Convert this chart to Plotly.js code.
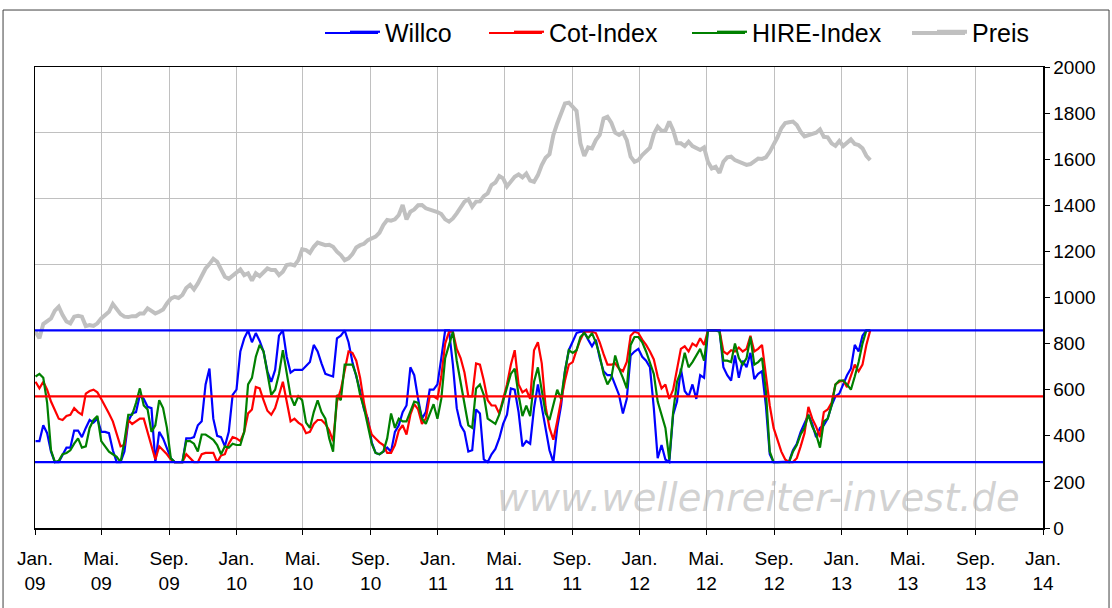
<!DOCTYPE html>
<html>
<head>
<meta charset="utf-8">
<script src="https://cdn.plot.ly/plotly-3.0.1.min.js"></script>
<style>html,body{margin:0;padding:0;background:#fff;}#chart{width:1112px;height:608px;}</style>
</head>
<body>
<div id="chart"></div>
<script>
// Weekly observations starting on the first Friday of 2009
const startDate = '2009-01-02';

// Index values in percent (0 = lower blue line, 100 = upper blue line)
const willco = [
16,16,28,22,8,0,0,6,11,11,24,24,19,26,32,30,33,23,23,22,9,0,0,8,31,37,38,51,48,42,41,0,23,18,11,3,0,0,0,18,18,19,28,31,59,71,33,20,19,12,23,51,55,84,
94,100,91,98,92,84,69,61,70,96,100,80,68,70,70,70,73,76,89,84,75,67,66,65,94,96,100,91,76,65,54,40,33,15,7,6,8,11,8,23,28,38,43,72,66,48,33,38,55,55,59,79,100,100,
74,41,28,23,8,9,40,37,2,0,6,10,18,29,36,56,55,38,12,16,14,41,59,42,24,9,0,26,43,69,85,91,98,99,99,93,88,93,79,69,66,66,59,51,37,48,81,84,86,80,77,72,41,
3,13,2,0,36,46,71,54,50,59,48,66,64,100,100,100,100,72,66,62,81,64,77,72,83,63,67,69,43,6,0,0,0,0,0.5,9,14,23,29,36,29,19,26,28,33,43,50,52,59,66,71,89,84,96,100,100];

const cotIndex = [
61,56,61,55,46,40,33,32,35,36,41,38,36,52,54,55,53,48,43,37,31,21,12,13,32,29,31,33,33,23,14,2,12,9,6,2,0,0,0,6,3,0,0,6,7,7,7,0,5,6,14,19,18,16,
23,37,40,57,56,47,39,36,41,51,61,46,31,33,30,28,22,23,29,32,32,29,24,16,46,55,69,84,83,77,64,45,31,21,18,15,13,7,7,13,24,28,21,36,44,40,29,33,50,50,48,65,90,99,
99,86,79,68,50,50,75,74,62,47,43,43,37,48,59,74,85,59,53,55,48,85,91,75,42,26,17,31,46,62,74,76,85,93,99,99,99,98,91,82,74,74,75,71,69,76,96,99,98,93,89,84,78,
65,56,59,48,55,71,86,88,84,90,88,94,89,100,100,100,100,84,82,85,84,87,84,86,96,84,86,89,64,43,26,16,8,2,0,0,3,12,22,42,33,27,19,38,40,45,59,61,62,57,65,74,69,74,89,100];

const hireIndex = [
65,67,64,45,9,0,1,6,7,9,14,18,11,12,26,32,35,16,12,8,6,4,0,16,36,36,45,56,43,40,23,28,47,41,26,3,0,0,0,16,16,14,8,21,21,19,17,13,6,12,11,14,13,13,
23,59,64,80,89,84,67,51,55,67,85,66,50,43,50,47,30,26,38,47,38,33,18,8,51,47,74,74,74,66,51,41,28,14,7,6,8,18,37,26,33,31,31,38,46,45,33,29,36,44,33,48,79,90,
99,77,61,46,28,26,56,59,51,33,31,29,36,46,55,67,71,51,35,43,35,61,72,54,37,32,43,55,48,69,85,83,85,95,98,94,98,91,81,67,59,64,81,71,64,56,89,95,95,91,84,75,67,
46,36,26,2,38,61,69,83,72,76,81,86,77,100,100,100,99,77,77,76,90,79,74,79,95,74,76,79,54,8,0,0,0,0,0,8,13,21,26,36,27,21,11,31,33,43,59,62,62,59,55,65,76,90,100,100];

// Price (right axis)
const preis = [
852,823,885,895,909,943,960,924,896,888,917,921,917,876,880,877,888,909,922,938,
972,953,928,917,915,919,919,931,931,953,943,931,938,948,974,995,1003,998,1011,1041,
1055,1035,1061,1090,1126,1145,1168,1155,1119,1090,1081,1093,1107,1122,1097,1105,1073,1105,1093,1112,
1126,1119,1119,1097,1112,1141,1144,1139,1162,1209,1206,1194,1220,1238,1232,1227,1229,1220,1199,1184,
1162,1170,1188,1217,1227,1233,1249,1259,1264,1281,1314,1336,1333,1339,1358,1401,1339,1372,1382,1400,
1401,1387,1382,1379,1371,1362,1339,1329,1343,1365,1387,1416,1426,1394,1416,1417,1440,1452,1488,1499,
1527,1517,1482,1500,1524,1534,1521,1538,
1507,1502,1531,1575,1606,1622,1705,1755,1799,1842,1845,1830,1810,1669,1614,1651,1647,1683,1705,1777,
1784,1758,1715,1705,1716,1683,1611,1589,1596,1618,1637,1650,1709,1741,1723,1723,1763,1726,1669,1669,
1657,1676,1657,1648,1640,1651,1589,1560,1567,1541,1589,1608,1611,1596,1589,1585,1575,1579,1589,1603,
1601,1608,1632,1660,1695,1734,1757,1760,1763,1748,1719,1699,1705,1712,1715,1729,1697,1695,1669,1658,
1679,1657,1673,1686,1666,1661,1647,1615,1596];

// Reference levels (percent)
const levels = [0, 50, 100];
const levelColors = ['#0000ff', '#ff0000', '#0000ff'];

// Axis ticks
const tickDates = ['2009-01-01','2009-05-01','2009-09-01','2010-01-01','2010-05-01','2010-09-01',
  '2011-01-01','2011-05-01','2011-09-01','2012-01-01','2012-05-01','2012-09-01',
  '2013-01-01','2013-05-01','2013-09-01','2014-01-01'];
const tickText = ['Jan.<br>09','Mai.<br>09','Sep.<br>09','Jan.<br>10','Mai.<br>10','Sep.<br>10',
  'Jan.<br>11','Mai.<br>11','Sep.<br>11','Jan.<br>12','Mai.<br>12','Sep.<br>12',
  'Jan.<br>13','Mai.<br>13','Sep.<br>13','Jan.<br>14'];

const seriesNames = ['Willco', 'Cot-Index', 'HIRE-Index', 'Preis'];
const seriesColors = ['#0000ff', '#ff0000', '#008000', '#c0c0c0'];
const seriesWidths = [2.2, 2.2, 2.2, 4];

function weekDates(n) {
  const s = new Date(startDate + 'T00:00:00Z');
  const out = [];
  for (let k = 0; k < n; k++) {
    const d = new Date(s.getTime() + k * 7 * 86400000);
    out.push(d.toISOString().slice(0, 10));
  }
  return out;
}
const dates = weekDates(preis.length);

const FONT = 'Liberation Sans, Arial, sans-serif';
const seriesData = [willco, cotIndex, hireIndex, preis];
const legendIds = ['legend', 'legend2', 'legend3', 'legend4'];

const traces = seriesData.map((vals, i) => ({
  x: dates, y: vals, name: seriesNames[i], type: 'scatter', mode: 'lines',
  line: {color: seriesColors[i], width: seriesWidths[i]},
  yaxis: i === 3 ? 'y2' : 'y', legend: legendIds[i]
}));

const shapes = levels.map((lv, i) => ({
  type: 'line', xref: 'paper', yref: 'y', x0: 0, x1: 1, y0: lv, y1: lv,
  line: {color: levelColors[i], width: 2.2}, layer: 'above'
}));
// outer frame
shapes.push({type: 'rect', xref: 'paper', yref: 'paper',
  x0: -0.0317, x1: 1.0655, y0: -0.2, y1: 1.1236,
  line: {color: '#404040', width: 1}, layer: 'below'});

// legend text start positions (px) and longer legend line samples
const legendTextPx = [385, 549, 752, 972];
const LEG_Y = 33;
function px2x(px) { return (px - 35) / 1008; }
function py2y(py) { return (528 - py) / 461; }
legendTextPx.forEach((tx, i) => {
  shapes.push({type: 'line', xref: 'paper', yref: 'paper',
    x0: px2x(tx - 60), x1: px2x(tx - 7), y0: py2y(LEG_Y), y1: py2y(LEG_Y),
    line: {color: seriesColors[i], width: i === 3 ? 4 : 2.2}, layer: 'above'});
});

function legendAt(px) {
  return {orientation: 'h', xref: 'container', yref: 'container',
    x: (px - 40) / 1112, xanchor: 'left', y: 1 - (LEG_Y - 1) / 608, yanchor: 'middle',
    font: {family: FONT, size: 25, color: '#000'}, bgcolor: 'rgba(0,0,0,0)', borderwidth: 0};
}

const layout = {
  width: 1112, height: 608,
  margin: {l: 35, r: 69, t: 67, b: 80},
  paper_bgcolor: '#ffffff', plot_bgcolor: '#ffffff',
  font: {family: FONT, size: 19, color: '#000'},
  showlegend: true,
  legend: legendAt(legendTextPx[0]),
  legend2: legendAt(legendTextPx[1]),
  legend3: legendAt(legendTextPx[2]),
  legend4: legendAt(legendTextPx[3]),
  xaxis: {
    type: 'date', range: ['2009-01-01', '2014-01-01'],
    tickvals: tickDates, ticktext: tickText,
    showgrid: true, gridcolor: '#c0c0c0', gridwidth: 1,
    showline: true, linecolor: '#000', linewidth: 1.5, mirror: true,
    ticks: 'outside', ticklen: 5, tickcolor: '#000', ticklabelstandoff: 8,
    tickfont: {family: FONT, size: 19}, zeroline: false, fixedrange: true
  },
  yaxis: {
    range: [-50, 300], dtick: 50, tick0: 0,
    showgrid: true, gridcolor: '#c0c0c0', gridwidth: 1,
    showticklabels: false, ticks: '', zeroline: false,
    showline: true, linecolor: '#000', linewidth: 1.5, fixedrange: true
  },
  yaxis2: {
    range: [0, 2000], dtick: 200, overlaying: 'y', side: 'right',
    showgrid: false, zeroline: false,
    showline: true, linecolor: '#000', linewidth: 1.5,
    ticks: 'outside', ticklen: 5, tickcolor: '#000',
    tickfont: {family: FONT, size: 19}, fixedrange: true
  },
  shapes: shapes,
  annotations: [{
    text: 'www.wellenreiter-invest.de', xref: 'paper', yref: 'paper',
    x: px2x(758), y: py2y(497), xanchor: 'center', yanchor: 'middle',
    showarrow: false,
    font: {family: 'DejaVu Sans, sans-serif', size: 38.5, color: 'rgba(180,180,180,0.6)', style: 'italic'}
  }]
};

Plotly.newPlot('chart', traces, layout, {displayModeBar: false, staticPlot: true});
</script>
</body>
</html>
